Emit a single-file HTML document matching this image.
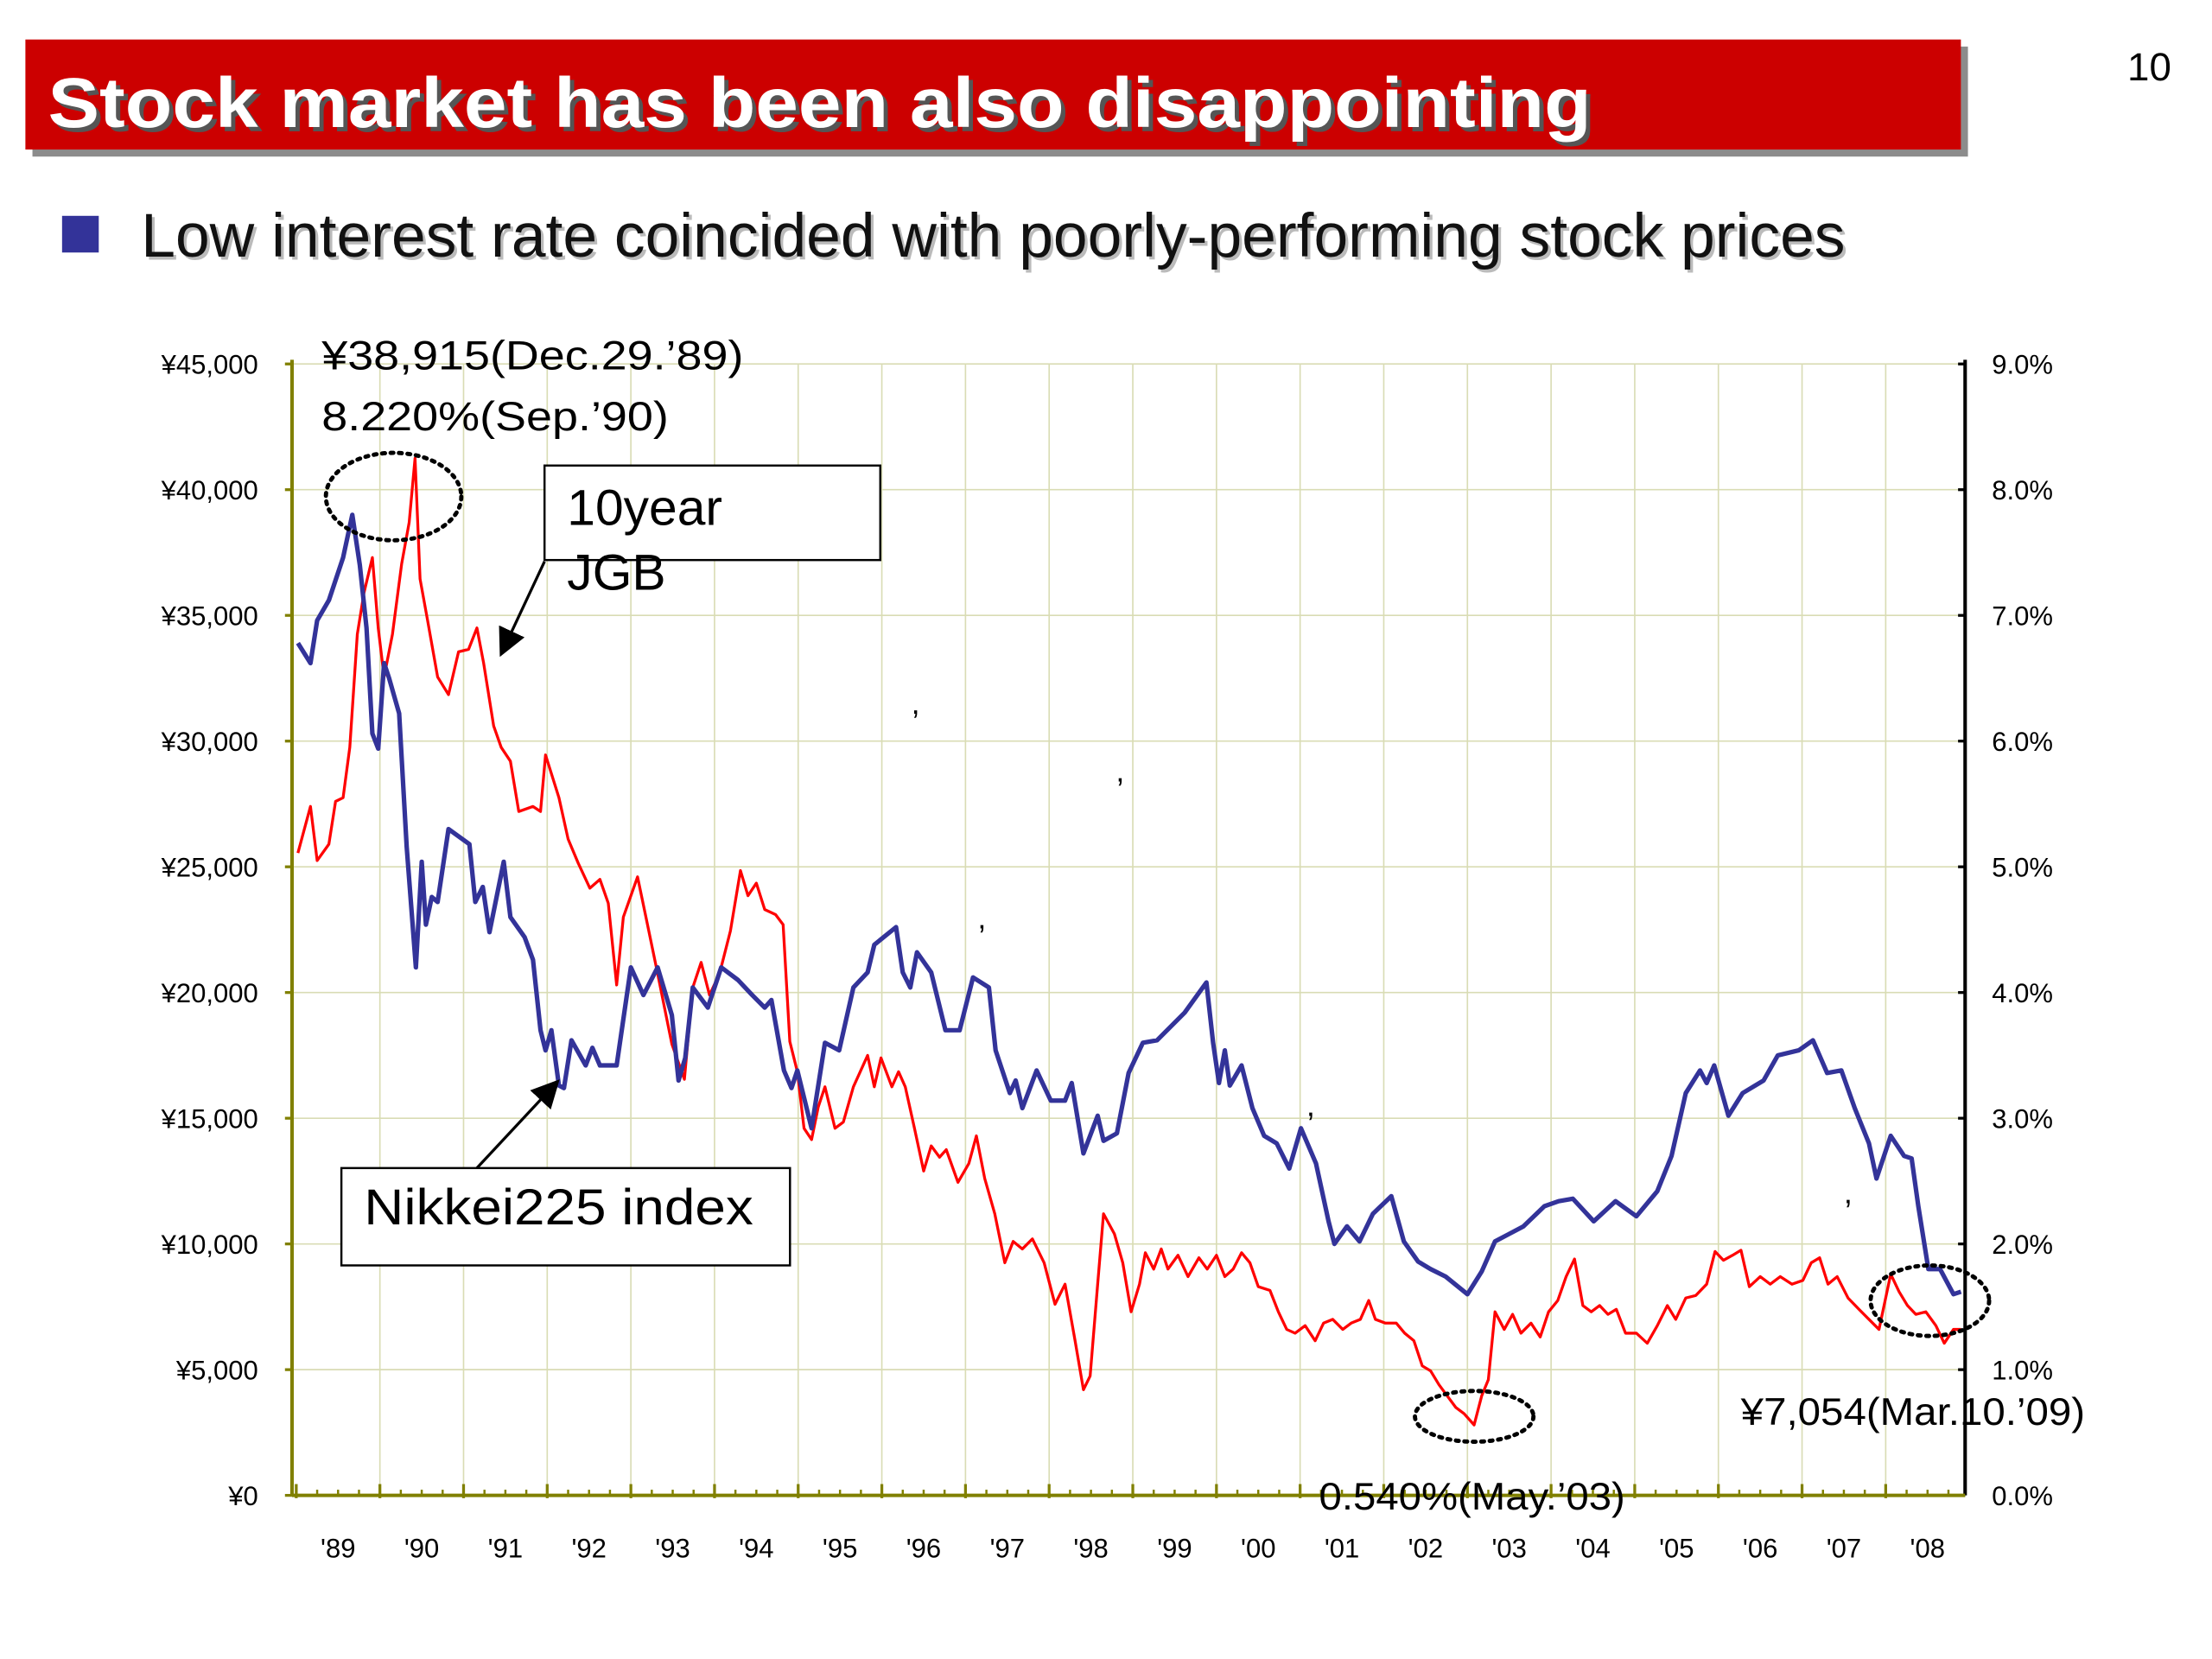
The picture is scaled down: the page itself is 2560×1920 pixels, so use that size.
<!DOCTYPE html>
<html><head><meta charset="utf-8">
<style>
html,body{margin:0;padding:0;background:#fff;}
svg{display:block;}
text{font-family:"Liberation Sans",sans-serif;}
</style></head>
<body>
<svg id="chart" width="2560" height="1920" viewBox="0 0 1568 1176" preserveAspectRatio="none" xmlns="http://www.w3.org/2000/svg">
<rect x="0" y="0" width="1568" height="1176" fill="#fff"/>
<g>
<rect x="23" y="33" width="1372" height="78" fill="#8c8c8c"/>
<rect x="18" y="28" width="1372" height="78" fill="#cc0000"/>
<text x="37" y="93" font-size="50" font-weight="bold" fill="#555" textLength="1094" lengthAdjust="spacingAndGlyphs">Stock market has been also disappointing</text>
<text x="34" y="90" font-size="50" font-weight="bold" fill="#fff" textLength="1094" lengthAdjust="spacingAndGlyphs">Stock market has been also disappointing</text>
</g>
<text x="1508" y="57" font-size="28" fill="#000">10</text>
<rect x="44" y="153" width="26" height="26" fill="#333399"/>
<text x="102" y="184" font-size="44" fill="#bbb" textLength="1208" lengthAdjust="spacingAndGlyphs">Low interest rate coincided with poorly-performing stock prices</text>
<text x="100" y="182" font-size="44" fill="#111" textLength="1208" lengthAdjust="spacingAndGlyphs">Low interest rate coincided with poorly-performing stock prices</text>
<g id="grid"></g>
<g id="axes"></g>
<g id="series"></g>
<g id="annot"></g>
</svg>
<script>
// Nikkei225: time offset (years since Jan 1989), value (thousand yen)
const nkT=[0.02,0.17,0.25,0.39,0.56,0.67,0.76,0.84,0.91,0.98,1.05,1.11,1.23,1.32,1.43,1.50,1.55,1.62,1.69,1.82,2.07,2.14,2.23,2.31,2.48,2.56,2.73,2.83,2.92,2.98,3.05,3.14,3.20,3.29,3.46,3.54,3.63,3.83,4.00,4.15,4.32,4.49,4.57,4.65,4.74,4.92,5.08,5.28,5.45,5.60,5.68,5.83,5.92,5.99,6.16,6.32,6.49,6.66,6.83,6.91,7.17,7.25,7.34,7.42,7.59,7.76,7.93,8.09,8.28,8.36,8.53,8.60,8.68,8.85,9.02,9.19,9.27,9.41,9.58,9.65,9.81,9.95,10.12,10.29,10.62,10.88,10.96,11.03,11.10,11.16,11.30,11.43,11.57,11.72,11.87,12.01,12.19,12.34,12.41,12.56,12.71,12.87,13.09,13.24,13.41,13.56,13.74,14.00,14.17,14.33,14.50,14.67,14.92,15.09,15.26,15.51,15.77,16.02,16.27,16.44,16.61,16.78,16.86,16.95,17.12,17.29,17.54,17.71,17.96,18.13,18.30,18.47,18.63,18.80,18.89,19.06,19.22,19.31,19.39,19.51,19.65,19.81,19.90];
const nkV=[33.9,33.1,34.8,35.6,37.3,39.0,37.0,34.5,30.3,29.7,33.1,32.5,31.1,25.8,21.0,25.2,22.7,23.8,23.6,26.5,25.9,23.6,24.2,22.4,25.2,23.0,22.2,21.3,18.5,17.7,18.5,16.3,16.2,18.1,17.1,17.8,17.1,17.1,21.0,19.9,21.0,19.1,16.5,17.4,20.2,19.4,21.0,20.5,19.9,19.4,19.7,16.9,16.2,16.9,14.6,18.0,17.7,20.2,20.8,21.9,22.6,20.8,20.2,21.6,20.8,18.5,18.5,20.6,20.2,17.7,16.0,16.5,15.4,16.9,15.7,15.7,16.4,13.6,15.1,14.1,14.4,16.8,18.0,18.1,19.2,20.4,18.0,16.4,17.7,16.3,17.1,15.4,14.3,14.0,13.0,14.6,13.2,10.9,10.0,10.7,10.1,11.2,11.9,10.1,9.3,9.0,8.7,8.0,8.9,10.1,10.4,10.7,11.5,11.7,11.8,10.9,11.7,11.1,12.1,13.5,16.0,16.9,16.4,17.1,15.1,16.0,16.5,17.5,17.7,18.1,16.8,16.9,15.4,14.0,12.6,14.3,13.5,13.4,11.5,9.0,9.0,8.0,8.1];
// 10-year JGB yield: time offset, rate (%)
const jgT=[0.02,0.17,0.25,0.39,0.47,0.56,0.64,0.73,0.81,0.91,0.98,1.05,1.15,1.26,1.35,1.42,1.48,1.57,1.69,1.82,1.94,2.06,2.16,2.24,2.36,2.45,2.56,2.66,2.83,2.92,2.98,3.14,3.25,3.37,3.51,3.63,3.73,3.83,3.91,4.08,4.18,4.32,4.49,4.64,4.74,4.84,4.94,5.06,5.19,5.31,5.40,5.50,5.60,5.73,5.82,5.90,5.99,6.07,6.16,6.24,6.32,6.44,6.54,6.66,6.83,6.91,6.99,7.12,7.20,7.28,7.39,7.50,7.59,7.69,7.77,7.91,8.04,8.13,8.23,8.35,8.47,8.57,8.68,8.80,8.94,9.07,9.19,9.31,9.41,9.49,9.58,9.65,9.78,9.88,9.98,10.08,10.15,10.25,10.34,10.42,10.54,10.66,10.79,10.89,11.00,11.10,11.20,11.30,11.40,11.50,11.64,11.74,11.84,11.94,12.06,12.18,12.28,12.39,12.51,12.61,12.72,12.82,12.90,13.02,13.15,13.25,13.36,13.46,13.56,13.66,13.76,13.86,13.96,14.08,14.17,14.25,14.33,14.44,14.54,14.64,14.76,14.87,14.97,15.08,15.18,15.28,15.38,15.48,15.58,15.68,15.78,15.89,16.02,16.15,16.27,16.39,16.49,16.61,16.73,16.86,16.96,17.06,17.17,17.27,17.37,17.50,17.62,17.74,17.88,18.01,18.11,18.21,18.31,18.42,18.55,18.68,18.80,18.92,19.06,19.16,19.26,19.36,19.48,19.60,19.70,19.81,19.90];
const jgV=[5.11,5.48,5.05,5.18,5.52,5.55,5.95,6.85,7.18,7.46,6.90,6.51,6.85,7.41,7.74,8.25,7.29,6.96,6.51,6.37,6.71,6.73,6.90,6.62,6.12,5.95,5.84,5.44,5.48,5.44,5.89,5.55,5.22,5.03,4.83,4.90,4.71,4.06,4.60,4.92,4.60,4.15,3.59,3.31,4.04,4.24,3.98,4.15,4.49,4.97,4.77,4.87,4.66,4.62,4.54,3.61,3.37,2.92,2.83,3.09,3.25,2.92,2.97,3.25,3.50,3.25,3.48,3.25,3.37,3.25,2.92,2.58,2.78,2.69,2.75,2.49,2.64,2.86,2.52,2.24,1.85,2.02,1.96,2.04,1.85,1.52,1.68,1.23,0.84,0.95,1.68,2.24,2.08,1.85,1.46,1.68,1.93,1.80,1.96,1.80,1.91,1.74,1.89,1.80,1.91,1.74,1.80,1.93,1.85,1.66,1.63,1.46,1.32,1.29,1.35,1.23,1.37,1.40,1.32,1.37,1.40,1.55,1.40,1.37,1.37,1.29,1.23,1.03,0.99,0.88,0.79,0.70,0.65,0.56,0.79,0.92,1.46,1.32,1.44,1.29,1.37,1.26,1.46,1.55,1.74,1.88,1.51,1.46,1.51,1.44,1.48,1.29,1.29,1.21,1.35,1.51,1.40,1.57,1.59,1.68,1.94,1.87,1.91,1.95,1.66,1.74,1.68,1.74,1.68,1.71,1.85,1.89,1.68,1.74,1.57,1.48,1.40,1.32,1.76,1.62,1.51,1.44,1.46,1.35,1.21,1.32,1.32];
const leftTicks=["¥0","¥5,000","¥10,000","¥15,000","¥20,000","¥25,000","¥30,000","¥35,000","¥40,000","¥45,000"];
const rightTicks=["0.0%","1.0%","2.0%","3.0%","4.0%","5.0%","6.0%","7.0%","8.0%","9.0%"];
const yearLabels=["'89","'90","'91","'92","'93","'94","'95","'96","'97","'98","'99","'00","'01","'02","'03","'04","'05","'06","'07","'08"];

const NS="http://www.w3.org/2000/svg";
const X0=207,X1=1393,Y0=1060,Y1=258,YS=59.3,XS0=210;
const xT=t=>XS0+t*YS;
const yNk=v=>Y0-(v/45)*(Y0-Y1);
const yJg=v=>Y0-(v/9)*(Y0-Y1);
function mk(tag,attrs,parent,txt){const e=document.createElementNS(NS,tag);for(const k in attrs)e.setAttribute(k,attrs[k]);if(txt!==undefined)e.textContent=txt;parent.appendChild(e);return e;}
const grid=document.getElementById('grid'),axes=document.getElementById('axes'),ser=document.getElementById('series');

leftTicks.forEach((lab,i)=>{
  const y=yNk(i*5);
  if(i>0){const g=mk('line',{x1:X0,x2:X1,y1:y,y2:y,stroke:'#d9dcb4','stroke-width':1},grid);
  
  }
  const t=mk('text',{x:183,y:y+7,'font-size':19,'text-anchor':'end',fill:'#000'},axes,lab);
  
  
  const r=mk('text',{x:1412,y:y+7,'font-size':19,fill:'#000'},axes,rightTicks[i]);
  
  
  mk('line',{x1:X0-5,x2:X0,y1:y,y2:y,stroke:'#808000','stroke-width':2},axes);
  mk('line',{x1:X1-5,x2:X1,y1:y,y2:y,stroke:'#000','stroke-width':2},axes);
});
yearLabels.forEach((lab,i)=>{
  const x=xT(i);
  if(i>0){const g=mk('line',{x1:x,x2:x,y1:Y1,y2:Y0,stroke:'#d9dcb4','stroke-width':1},grid);
  
  }
  const t=mk('text',{x:x+YS/2,y:1104,'font-size':19,'text-anchor':'middle',fill:'#000'},axes,lab);
  
  
  mk('line',{x1:x,x2:x,y1:Y0-8,y2:Y0+2,stroke:'#808000','stroke-width':2},axes);
  for(let q=1;q<4;q++){const xm=x+q*YS/4;if(xm<X1)mk('line',{x1:xm,x2:xm,y1:Y0-4,y2:Y0,stroke:'#808000','stroke-width':1.5},axes);}
});
let a=mk('line',{x1:X0,x2:X0,y1:255,y2:Y0,stroke:'#808000','stroke-width':2.5},axes);


a=mk('line',{x1:X1,x2:X1,y1:255,y2:Y0,stroke:'#000','stroke-width':2.5},axes);


a=mk('line',{x1:X0,x2:X1,y1:Y0,y2:Y0,stroke:'#808000','stroke-width':2.5},axes);



let p=mk('polyline',{points:jgT.map((t,i)=>xT(t)+','+yJg(jgV[i])).join(' '),fill:'none',stroke:'#ff0000','stroke-width':2,'stroke-linejoin':'round'},ser);


p=mk('polyline',{points:nkT.map((t,i)=>xT(t)+','+yNk(nkV[i])).join(' '),fill:'none',stroke:'#333399','stroke-width':3.2,'stroke-linejoin':'round'},ser);


</script>
<script>
(function(){
const an=document.getElementById('annot');
an.innerHTML=`
<defs><marker id="ah" markerWidth="10" markerHeight="10" refX="8" refY="5" orient="auto"><path d="M0,0 L10,5 L0,10 z" fill="#000"/></marker></defs>
<text x="228" y="262" font-size="29" textLength="299" lengthAdjust="spacingAndGlyphs">¥38,915(Dec.29.’89)</text>
<text x="228" y="305" font-size="29" textLength="246" lengthAdjust="spacingAndGlyphs">8.220%(Sep.’90)</text>
<ellipse cx="279" cy="352" rx="48" ry="31" fill="none" stroke="#000" stroke-width="3" stroke-dasharray="2,4" stroke-linecap="round"/>
<ellipse cx="1045" cy="1004" rx="42" ry="18" fill="none" stroke="#000" stroke-width="3" stroke-dasharray="2,4" stroke-linecap="round"/>
<ellipse cx="1368" cy="922" rx="42" ry="25" fill="none" stroke="#000" stroke-width="3" stroke-dasharray="2,4" stroke-linecap="round"/>
<g>
<rect x="386" y="330" width="238" height="67" fill="#fff" stroke="#000" stroke-width="1.5"/>
<text x="402" y="372" font-size="36">10year</text>
<text x="402" y="418" font-size="36">JGB</text>
</g>
<line x1="386" y1="398" x2="356" y2="462" stroke="#000" stroke-width="2" marker-end="url(#ah)"/>
<g>
<rect x="242" y="828" width="318" height="69" fill="#fff" stroke="#000" stroke-width="1.5"/>
<text x="258" y="868" font-size="36" textLength="276" lengthAdjust="spacingAndGlyphs">Nikkei225 index</text>
</g>
<line x1="338" y1="828" x2="394" y2="768" stroke="#000" stroke-width="2" marker-end="url(#ah)"/>
<text x="1234" y="1010" font-size="27" textLength="244" lengthAdjust="spacingAndGlyphs">¥7,054(Mar.10.’09)</text>
<text x="935" y="1070" font-size="27" textLength="217" lengthAdjust="spacingAndGlyphs">0.540%(May.’03)</text>
<text x="646" y="506" font-size="22">,</text>
<text x="791" y="554" font-size="22">,</text>
<text x="693" y="658" font-size="22">,</text>
<text x="926" y="791" font-size="22">,</text>
<text x="1307" y="853" font-size="22">,</text>`;
})();
</script>
</body></html>
